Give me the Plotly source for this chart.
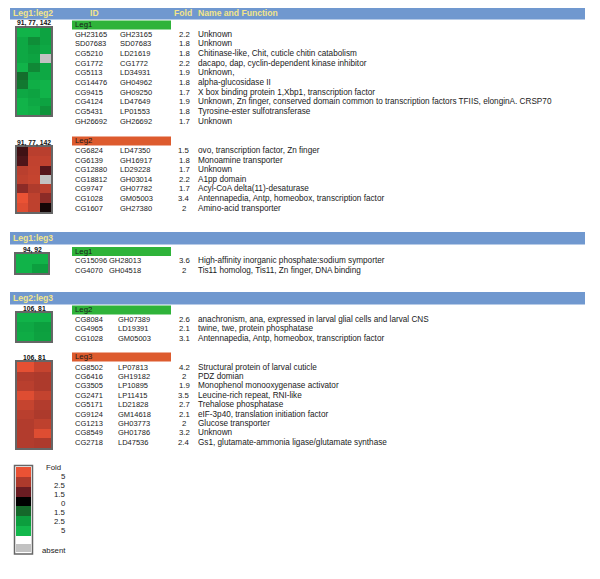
import plotly.graph_objects as go

# page is 600x579 but the browser adds an 8px body margin, so the figure is
# drawn 8px smaller and every position below is given in page pixels
PAGE_W, PAGE_H = 600, 579
OFF = 8
W, H = PAGE_W - OFF, PAGE_H - OFF
NA = None
FONT = "Arial, Liberation Sans, sans-serif"

BLUE = "#7098cf"
HEAD_TEXT = "#f3e58a"
GREEN_BAR = "#2fb33a"
RED_BAR = "#dd5b2e"
FRAME = "#666666"
INK = "#1a1a1a"

# ---- Leg1:leg2 / Leg1 ----
L12_LEG1_ID1 = ["GH23165", "SD07683", "CG5210", "CG1772", "CG5113", "CG14476",
                "CG9415", "CG4124", "CG5431", "GH26692"]
L12_LEG1_ID2 = ["GH23165", "SD07683", "LD21619", "CG1772", "LD34931", "GH04962",
                "GH09250", "LD47649", "LP01553", "GH26692"]
L12_LEG1_FOLD = ["2.2", "1.8", "1.8", "2.2", "1.9", "1.8", "1.7", "1.9", "1.8", "1.7"]
L12_LEG1_NAME = [
    "Unknown",
    "Unknown",
    "Chitinase-like, Chit, cuticle chitin catabolism",
    "dacapo, dap, cyclin-dependent kinase inhibitor",
    "Unknown,",
    "alpha-glucosidase II",
    "X box binding protein 1,Xbp1, transcription factor",
    "Unknown, Zn finger, conserved domain common to transcription factors TFIIS, elonginA. CRSP70",
    "Tyrosine-ester sulfotransferase",
    "Unknown",
]
L12_LEG1_Z = [
    [-4.5, -4.5, -3.0],
    [-3.5, -2.2, -3.0],
    [-3.5, -2.5, -3.5],
    [-3.5, -3.0, NA],
    [-4.5, -2.1, -3.5],
    [-1.6, -3.5, -3.5],
    [-1.8, -4.0, -4.5],
    [-3.5, -3.0, -4.5],
    [-4.5, -3.5, -3.0],
    [-4.5, -4.0, -2.3],
]

# ---- Leg1:leg2 / Leg2 ----
L12_LEG2_ID1 = ["CG6824", "CG6139", "CG12880", "CG18812", "CG9747", "CG1028", "CG1607"]
L12_LEG2_ID2 = ["LD47350", "GH16917", "LD29228", "GH03014", "GH07782", "GM05003", "GH27380"]
L12_LEG2_FOLD = ["1.5", "1.8", "1.7", "2.2", "1.7", "3.4", "2"]
L12_LEG2_NAME = [
    "ovo, transcription factor, Zn finger",
    "Monoamine transporter",
    "Unknown",
    "A1pp domain",
    "Acyl-CoA delta(11)-desaturase",
    "Antennapedia, Antp, homeobox, transcription factor",
    "Amino-acid transporter",
]
L12_LEG2_Z = [
    [0.9, 3.0, 3.0],
    [1.1, 3.3, 3.3],
    [3.0, 3.4, 1.2],
    [3.2, 3.5, NA],
    [2.0, 2.6, 3.0],
    [5.0, 3.2, 2.0],
    [4.5, 3.2, 0.3],
]

# ---- Leg1:leg3 / Leg1 ----
L13_LEG1_ID1 = ["CG15096", "CG4070"]
L13_LEG1_ID2 = ["GH28013", "GH04518"]
L13_LEG1_FOLD = ["3.6", "2"]
L13_LEG1_NAME = [
    "High-affinity inorganic phosphate:sodium symporter",
    "Tis11 homolog, Tis11, Zn finger, DNA binding",
]
L13_LEG1_Z = [
    [-4.5, -4.5],
    [-4.5, -2.6],
]

# ---- Leg2:leg3 / Leg2 ----
L23_LEG2_ID1 = ["CG8084", "CG4965", "CG1028"]
L23_LEG2_ID2 = ["GH07389", "LD19391", "GM05003"]
L23_LEG2_FOLD = ["2.6", "2.1", "3.1"]
L23_LEG2_NAME = [
    "anachronism, ana, expressed in larval glial cells and larval CNS",
    "twine, twe, protein phosphatase",
    "Antennapedia, Antp, homeobox, transcription factor",
]
L23_LEG2_Z = [
    [-4.5, -4.5],
    [-3.5, -2.6],
    [-3.8, -2.8],
]

# ---- Leg2:leg3 / Leg3 ----
L23_LEG3_ID1 = ["CG8502", "CG6416", "CG3505", "CG2471", "CG5171", "CG9124",
                "CG1213", "CG8549", "CG2718"]
L23_LEG3_ID2 = ["LP07813", "GH19182", "LP10895", "LP11415", "LD21828", "GM14618",
                "GH03773", "GH01786", "LD47536"]
L23_LEG3_FOLD = ["4.2", "2", "1.9", "3.5", "2.7", "2.1", "2", "3.2", "2.4"]
L23_LEG3_NAME = [
    "Structural protein of larval cuticle",
    "PDZ domian",
    "Monophenol monooxygenase activator",
    "Leucine-rich repeat, RNI-like",
    "Trehalose phosphatase",
    "eIF-3p40, translation initiation factor",
    "Glucose transporter",
    "Unknown",
    "Gs1, glutamate-ammonia ligase/glutamate synthase",
]
L23_LEG3_Z = [
    [4.8, 3.5],
    [2.7, 2.5],
    [3.0, 2.5],
    [4.5, 3.4],
    [3.5, 2.7],
    [3.0, 2.5],
    [2.7, 3.2],
    [2.7, 4.5],
    [2.7, 2.5],
]

# ---- fold legend ----
LEGEND_VALUES = [5, 2.5, 1.5, 0, -1.5, -2.5, -5]
LEGEND_LABELS = ["5", "2.5", "1.5", "0", "1.5", "2.5", "5"]

COLORSCALE = [
    [0.0, "#12b84c"],
    [0.25, "#0c9e3e"],
    [0.35, "#15682a"],
    [0.5, "#000000"],
    [0.65, "#6a1c22"],
    [0.75, "#ad3a2c"],
    [1.0, "#ea5234"],
]


def px(x):
    return (x - OFF) / W


def py(y):
    return 1 - (y - OFF) / H


fig = go.Figure()
annotations = []
shapes = []
axis_count = [0]


def text(x, y, s, size=8.0, bold=False, color=INK, anchor="left"):
    annotations.append(dict(
        x=px(x), y=py(y), xref="paper", yref="paper",
        text=f"<b>{s}</b>" if bold else s, showarrow=False,
        xanchor=anchor, yanchor="middle", borderpad=0,
        font=dict(family=FONT, size=size, color=color),
    ))


def rect(x0, y0, x1, y1, fill=None, line=None, width=1):
    shapes.append(dict(
        type="rect", xref="paper", yref="paper", layer="below",
        x0=px(x0), x1=px(x1), y0=py(y1), y1=py(y0),
        fillcolor=fill, line=dict(width=width if line else 0, color=line or "rgba(0,0,0,0)"),
    ))


def add_heatmap(z, x0, x1, y0, y1, frame=True):
    axis_count[0] += 1
    n = axis_count[0]
    xa = "x" if n == 1 else f"x{n}"
    ya = "y" if n == 1 else f"y{n}"
    fig.add_trace(go.Heatmap(
        z=z, xaxis=xa, yaxis=ya, colorscale=COLORSCALE, zmin=-5, zmax=5,
        showscale=False, hoverongaps=False,
    ))
    nrows, ncols = len(z), len(z[0])
    common = dict(showgrid=False, zeroline=False, showticklabels=False, ticks="",
                  showline=frame, mirror=frame, linecolor=FRAME, linewidth=1.5, fixedrange=True)
    key = "" if n == 1 else str(n)
    fig.update_layout(**{
        f"xaxis{key}": dict(domain=[px(x0), px(x1)], range=[-0.5, ncols - 0.5],
                            anchor=ya, **common),
        f"yaxis{key}": dict(domain=[py(y1), py(y0)], range=[nrows - 0.5, -0.5],
                            anchor=xa, **common),
    })


def section_header(y0, y1, title, columns=False):
    rect(10, y0, 585, y1, fill=BLUE)
    ym = (y0 + y1) / 2
    text(12, ym, title, size=8.6, bold=True, color=HEAD_TEXT)
    if columns:
        text(89, ym, "ID", size=8.6, bold=True, color=HEAD_TEXT)
        text(173, ym, "Fold", size=8.6, bold=True, color=HEAD_TEXT)
        text(197, ym, "Name and Function", size=8.6, bold=True, color=HEAD_TEXT)


def gene_group(label, bar_color, hm_label, ids1, ids2, folds, names, z,
               bar_y, row_y, row_dy, hm_x, hm_y, id2_x=119):
    rect(72, bar_y, 171, bar_y + 9, fill=bar_color)
    text(74, bar_y + 4.3, label, size=7.8)
    text((hm_x[0] + hm_x[1]) / 2, hm_y[0] - 4.5, hm_label, size=6.8, bold=True,
         color="#111111", anchor="center")
    add_heatmap(z, hm_x[0], hm_x[1], hm_y[0], hm_y[1])
    for i, (a, b, f, nm) in enumerate(zip(ids1, ids2, folds, names)):
        y = row_y + i * row_dy
        text(74, y, a, size=7.5)
        text(id2_x, y, b, size=7.5)
        text(184, y, f, size=7.8, anchor="center")
        text(197, y, nm, size=8.2)


# Leg1:leg2
section_header(7, 19.5, "Leg1:leg2", columns=True)
gene_group("Leg1", GREEN_BAR, "91, 77, 142", L12_LEG1_ID1, L12_LEG1_ID2, L12_LEG1_FOLD,
           L12_LEG1_NAME, L12_LEG1_Z, 20.5, 34, 9.67, (17, 51), (28, 115))
gene_group("Leg2", RED_BAR, "91, 77, 142", L12_LEG2_ID1, L12_LEG2_ID2, L12_LEG2_FOLD,
           L12_LEG2_NAME, L12_LEG2_Z, 136.5, 150.5, 9.6, (17, 51), (147, 212))

# Leg1:leg3
section_header(232, 244.5, "Leg1:leg3")
gene_group("Leg1", GREEN_BAR, "94, 92", L13_LEG1_ID1, L13_LEG1_ID2, L13_LEG1_FOLD,
           L13_LEG1_NAME, L13_LEG1_Z, 247, 261, 9.7, (16, 48), (254, 273), id2_x=108)

# Leg2:leg3
section_header(292, 304.5, "Leg2:leg3")
gene_group("Leg2", GREEN_BAR, "106, 81", L23_LEG2_ID1, L23_LEG2_ID2, L23_LEG2_FOLD,
           L23_LEG2_NAME, L23_LEG2_Z, 305.5, 319, 9.5, (17, 51), (313, 341), id2_x=117)
gene_group("Leg3", RED_BAR, "106, 81", L23_LEG3_ID1, L23_LEG3_ID2, L23_LEG3_FOLD,
           L23_LEG3_NAME, L23_LEG3_Z, 352.5, 367, 9.4, (17, 51), (362, 448), id2_x=117)

# fold legend
rect(14.5, 465.5, 32.5, 554, line=FRAME, width=1.5)
add_heatmap([[v] for v in LEGEND_VALUES], 16, 31, 467, 536, frame=False)
add_heatmap([[NA]], 16, 31, 544, 552, frame=False)
text(45, 467, "Fold", size=7.8)
for i, lab in enumerate(LEGEND_LABELS):
    text(67, 476.5 + i * 9.0, lab, size=7.8, anchor="right")
text(41, 550, "absent", size=7.8)

fig.update_layout(
    width=W, height=H,
    margin=dict(l=0, r=0, t=0, b=0),
    paper_bgcolor="white",
    plot_bgcolor="#c2c2c2",
    showlegend=False,
    annotations=annotations,
    shapes=shapes,
    font=dict(family=FONT),
)

fig.write_html("out.html")
